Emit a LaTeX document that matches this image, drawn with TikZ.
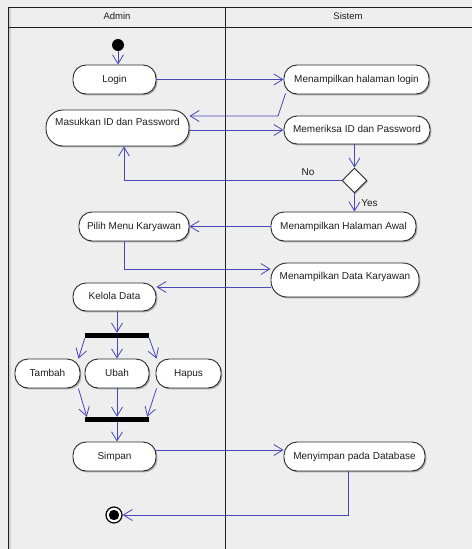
\documentclass[tikz,border=0pt]{standalone}
\usepackage{fontspec}
\setmainfont{Liberation Sans}
\usetikzlibrary{arrows.meta,shapes.geometric,shadows,calc}
\definecolor{lanebg}{RGB}{238,238,238}
\definecolor{flow}{RGB}{72,72,182}
\definecolor{edge}{RGB}{40,40,40}
\definecolor{ink}{RGB}{30,30,30}

\begin{document}
\begin{tikzpicture}[x=1pt,y=-1pt,
  font=\fontsize{10}{12}\selectfont,
  laneline/.style={draw=ink, line width=1pt},
  actbox/.style={draw=edge, line width=0.9pt, fill=white, rounded corners=13pt,
    inner sep=0pt, text height=7pt, text depth=2pt, text=ink,
    drop shadow={shadow xshift=1.4pt, shadow yshift=-1.4pt, fill=black!50, opacity=0.6}},
  barnode/.style={fill=black, inner sep=0pt, minimum height=5pt},
  decnode/.style={diamond, draw=edge, line width=0.9pt, fill=white, inner sep=0pt,
    minimum size=25pt,
    drop shadow={shadow xshift=1.2pt, shadow yshift=-1.2pt, fill=black!50, opacity=0.6}},
  startdot/.style={circle, fill=black, inner sep=0pt, minimum size=12pt},
  enddot/.style={circle, draw=black, line width=1.2pt, fill=white, inner sep=0pt,
    minimum size=16pt,
    path picture={\fill[black] (path picture bounding box.center) circle (5.2pt);}},
  flowline/.style={draw=flow, line width=0.8pt, -{Straight Barb[length=9pt,width=11pt]}},
  guardtext/.style={text=ink, inner sep=1pt},
]
\useasboundingbox (0,0) rectangle (472,549);

% swimlane frame
\fill[lanebg] (0,0) rectangle (472,549);
\fill[black!18] (9,8) rectangle (10.6,549);
\draw[laneline] (8.5,549) -- (8.5,7.5) -- (472,7.5);
\draw[laneline] (8.5,27.5) -- (472,27.5);
\draw[laneline] (225.5,7.5) -- (225.5,549);
\node[text=ink, font=\fontsize{9.5}{11}\selectfont] (adminhead) at (117,16.5) {Admin};
\node[text=ink, font=\fontsize{9.5}{11}\selectfont] (sistemhead) at (348,16.5) {Sistem};

% activities
\node[startdot] (start) at (118,45) {};
\node[actbox, minimum width=83pt, minimum height=29pt] (login) at (114.5,79.5) {Login};
\node[actbox, minimum width=145pt, minimum height=29pt] (showlogin) at (356.5,79.5) {Menampilkan halaman login};
\node[actbox, minimum width=143pt, minimum height=36pt, text depth=12pt, rounded corners=17pt] (input) at (117.5,128) {Masukkan ID dan Password};
\node[actbox, minimum width=146pt, minimum height=28pt] (check) at (357,130) {Memeriksa ID dan Password};
\node[decnode] (decide) at (354.5,180.5) {};
\node[actbox, minimum width=145pt, minimum height=29pt] (home) at (343.5,226.5) {Menampilkan Halaman Awal};
\node[actbox, minimum width=110pt, minimum height=29pt] (menu) at (134,226.5) {Pilih Menu Karyawan};
\node[actbox, minimum width=148pt, minimum height=34pt, text depth=9pt, rounded corners=16pt] (staff) at (345,280) {Menampilkan Data Karyawan};
\node[actbox, minimum width=83pt, minimum height=28pt] (manage) at (114.5,297) {Kelola Data};
\node[barnode, minimum width=64pt] (fork) at (117,335.5) {};
\node[actbox, minimum width=65pt, minimum height=29pt] (add) at (47.5,373.5) {Tambah};
\node[actbox, minimum width=64pt, minimum height=29pt] (edit) at (117,373.5) {Ubah};
\node[actbox, minimum width=65pt, minimum height=29pt] (del) at (188.5,373.5) {Hapus};
\node[barnode, minimum width=64pt] (join) at (117,419.5) {};
\node[actbox, minimum width=83pt, minimum height=29pt] (save) at (114.5,456.5) {Simpan};
\node[actbox, minimum width=141pt, minimum height=29pt] (store) at (354.5,456.5) {Menyimpan pada Database};
\node[enddot] (final) at (114,515) {};

% helper points for bends and offset ends
\coordinate (bendA) at (278,116);
\coordinate (loginout) at ($(showlogin.south west)+(2,-1)$);
\coordinate (menuout) at ($(menu.south)+(-10,0)$);
\coordinate (staffin) at ($(staff.west)+(0,-11)$);
\coordinate (staffout) at ($(staff.west)+(0,7)$);
\coordinate (noend) at ($(input.south)+(6.5,0)$);
\coordinate (addin) at ($(add.north east)+(-2,0)$);
\coordinate (addout) at ($(add.south east)+(-2,0)$);
\coordinate (delin) at ($(del.north west)+(1,0)$);
\coordinate (delout) at ($(del.south west)+(1,0)$);
\coordinate (joinl) at ($(join.north west)+(2,0)$);
\coordinate (joinr) at ($(join.north east)+(-2,0)$);
\coordinate (saveout) at ($(save.east)+(0,-6.5)$);
\coordinate (storeout) at ($(store.south)+(-6.5,0)$);

% control flow
\draw[flowline] (start) -- (start |- login.north);
\draw[flowline] (login.east) -- (showlogin.west);
\draw[flowline] (loginout) -- (bendA) -- (bendA -| input.east);
\draw[flowline] (input.east |- check.west) -- (check.west);
\draw[flowline] (decide.north |- check.south) -- (decide.north);
\draw[flowline] (decide.west) -| (noend);
\node[guardtext] (nolabel) at (308,172) {No};
\draw[flowline] (decide.south) -- (decide.south |- home.north);
\node[guardtext] (yeslabel) at (369.5,203) {Yes};
\draw[flowline] (home.west) -- (menu.east);
\draw[flowline] (menuout) |- (staffin);
\draw[flowline] (staffout) -- (staffout -| manage.east);
\draw[flowline] (fork.north |- manage.south) -- (fork.north);
\draw[flowline] (fork.south west) -- (addin);
\draw[flowline] (fork.south) -- (edit.north);
\draw[flowline] (fork.south east) -- (delin);
\draw[flowline] (addout) -- (joinl);
\draw[flowline] (edit.south) -- (join.north);
\draw[flowline] (delout) -- (joinr);
\draw[flowline] (join.south) -- (join.south |- save.north);
\draw[flowline] (saveout) -- (saveout -| store.west);
\draw[flowline] (storeout) |- (final.east);
\end{tikzpicture}
\end{document}
